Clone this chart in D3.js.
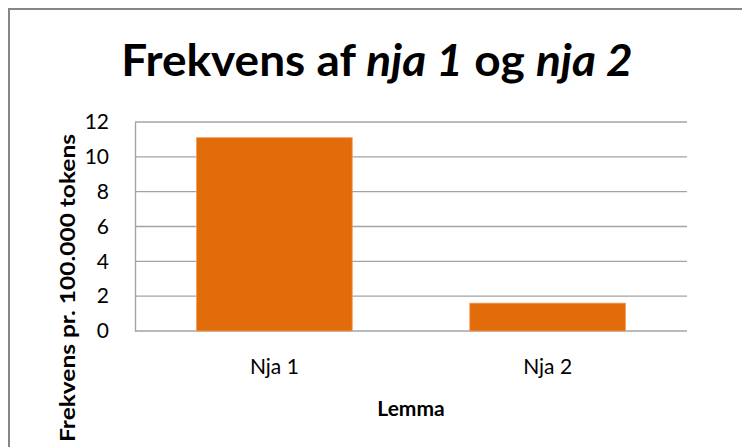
<!DOCTYPE html>
<html lang="da">
    <head>
        <meta charset="UTF-8" />
        <title>Frekvens af nja 1 og nja 2</title>
        <script src="https://cdn.jsdelivr.net/npm/d3@7"></script>
        <style>
            body { margin: 0; padding: 0; background: #fff; }
            text { font-family: Lato, 'Noto Sans', sans-serif; fill: #000; }
            .title { font-size: 43px; font-weight: bold; }
            .axis-title { font-size: 21px; font-weight: bold; }
            .tick text { font-size: 21px; }
        </style>
    </head>
    <body>
        <svg width="742" height="447"></svg>
        <script>
            // data
            var lemmas = ['Nja 1', 'Nja 2'];
            var frekvens = [11.1, 1.6];
            var yTicks = [0, 2, 4, 6, 8, 10, 12];

            var svg = d3.select('svg');
            var margin = { top: 122, right: 55, bottom: 116, left: 135 };
            var width = 742 - margin.left - margin.right,
                height = 447 - margin.top - margin.bottom;

            // chart area frame (runs off the right/bottom edge)
            svg.append('rect')
                .attr('x', 9).attr('y', 9)
                .attr('width', 760).attr('height', 460)
                .attr('fill', '#fff')
                .attr('stroke', '#868686')
                .attr('stroke-width', 2);

            var g = svg.append('g')
                .attr('transform', 'translate(' + margin.left + ',' + margin.top + ')');

            var x = d3.scaleBand().domain(lemmas).range([0, width]).paddingInner(0.43).paddingOuter(0.225);
            var y = d3.scaleLinear().domain([0, 12]).range([height, 0]);

            // gridlines
            g.append('g')
                .selectAll('line')
                .data(yTicks)
                .join('line')
                .attr('x1', 0).attr('x2', width)
                .attr('y1', d => y(d)).attr('y2', d => y(d))
                .attr('stroke', '#a3a3a3')
                .attr('stroke-width', 1.4);

            // y axis
            var yAxis = g.append('g')
                .call(d3.axisLeft(y).tickValues(yTicks).tickSize(0).tickPadding(26));
            yAxis.select('.domain').attr('stroke', '#a3a3a3').attr('stroke-width', 1.4);
            yAxis.selectAll('.tick text').attr('fill', '#222');

            // bars
            g.selectAll('rect.bar')
                .data(frekvens)
                .join('rect')
                .attr('class', 'bar')
                .attr('x', (d, i) => x(lemmas[i]))
                .attr('y', d => y(d))
                .attr('width', x.bandwidth())
                .attr('height', d => height - y(d))
                .attr('fill', '#e36c0a')
                .attr('stroke', '#f0a060')
                .attr('stroke-width', 0.8);

            // x axis
            var xAxis = g.append('g')
                .attr('transform', 'translate(0,' + height + ')')
                .call(d3.axisBottom(x).tickSize(0).tickPadding(0));
            xAxis.select('.domain').remove();
            xAxis.selectAll('.tick text').attr('fill', '#222').attr('dy', null).attr('y', 43);

            // titles
            svg.append('text')
                .attr('class', 'title')
                .attr('transform', 'translate(377,76) scale(1.07,1)')
                .attr('text-anchor', 'middle')
                .call(t => {
                    t.append('tspan').text('Frekvens af ');
                    t.append('tspan').attr('font-style', 'italic').text('nja 1');
                    t.append('tspan').text(' og ');
                    t.append('tspan').attr('font-style', 'italic').text('nja 2');
                });

            svg.append('text')
                .attr('class', 'axis-title')
                .attr('x', margin.left + width / 2).attr('y', 416)
                .attr('text-anchor', 'middle')
                .text('Lemma');

            svg.append('text')
                .attr('class', 'axis-title')
                .attr('transform', 'translate(75,288) rotate(-90)')
                .attr('text-anchor', 'middle')
                .attr('textLength', 308)
                .attr('lengthAdjust', 'spacingAndGlyphs')
                .text('Frekvens pr. 100.000 tokens');
        </script>
    </body>
</html>
